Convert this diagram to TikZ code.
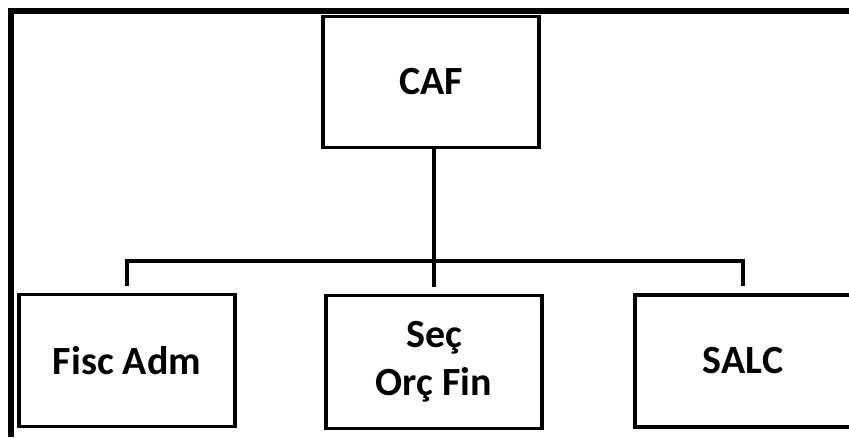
\documentclass[tikz,border=0pt]{standalone}
\usepackage{fontspec}
\setmainfont{Carlito}
\usepackage{tikz}
\usetikzlibrary{positioning,calc}

\tikzset{
	unit/.style={draw,line width=3.5pt,minimum width=216pt,minimum height=131pt,
		align=center,font=\fontsize{40}{48}\selectfont\bfseries,inner sep=0pt},
	link/.style={line width=4pt},
	frameline/.style={line width=6pt}
}

\begin{document}
\begin{tikzpicture}[x=1pt,y=-1pt]
		\useasboundingbox (0,0) rectangle (849,437);
		% frame on top and left
		\draw[frameline] (11,437) -- (11,11) -- (849,11);
		
		\node[unit] (caf) at (431,82){CAF};
		\node[unit,minimum height=132pt] (fisc) at (127,360.5){Fisc Adm};
		\node[unit,minimum height=133pt] (sec) at (434,362){Se\c{c}\\Or\c{c} Fin};
		\node[unit,minimum height=132pt] (salc) at (743,361){SALC};
		
		\coordinate (bus) at (0,261);
		\draw[link] (caf.south -| sec.north) -- ([yshift=7pt]sec.north);
		\draw[link] ([yshift=7pt]fisc.north) |- (sec.north |- bus) -| ([yshift=7pt]salc.north);
		
		\end{tikzpicture}
\end{document}
